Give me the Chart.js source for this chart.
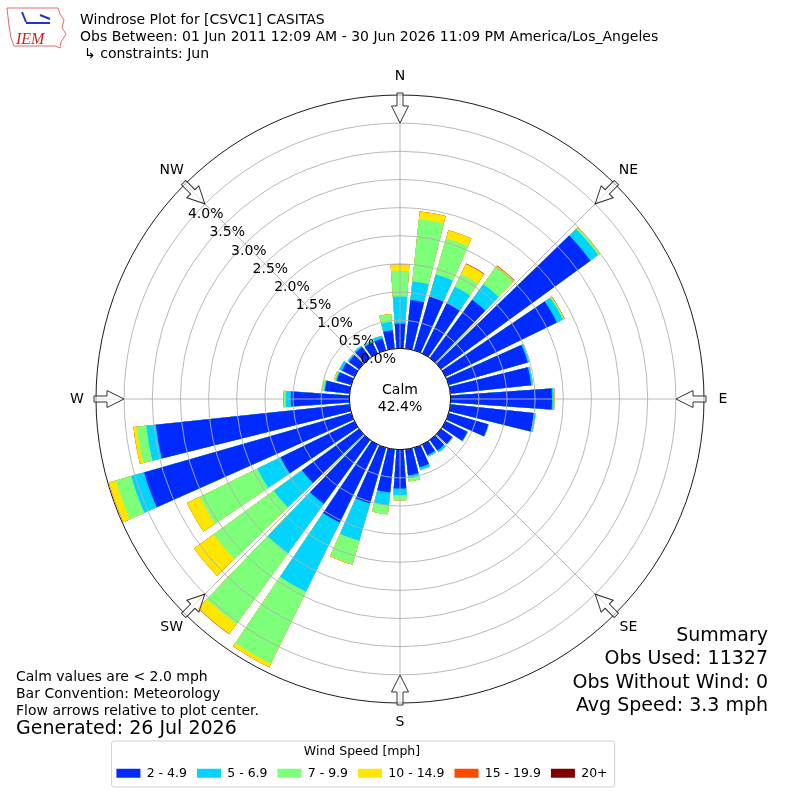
<!DOCTYPE html>
<html>
<head>
<meta charset="utf-8">
<script src="https://cdn.jsdelivr.net/npm/chart.js@4.4.1/dist/chart.umd.min.js"></script>
<style>
  html, body { margin: 0; padding: 0; background: #fff; }
  #wrap { width: 800px; height: 800px; }
</style>
</head>
<body>
<div id="wrap"><canvas id="rose" width="800" height="800"></canvas></div>
<script>
// wind directions (degrees, direction the wind blows from)
const directions = [0, 10, 20, 30, 40, 50, 60, 70, 80, 90, 100, 110, 120, 130, 140, 150, 160, 170,
  180, 190, 200, 210, 220, 230, 240, 250, 260, 270, 280, 290, 300, 310, 320, 330, 340, 350];

const speedBins = ["2 - 4.9", "5 - 6.9", "7 - 9.9", "10 - 14.9", "15 - 19.9", "20+"];
const binColors = ["#002aff", "#00d4ff", "#7dff7a", "#ffe600", "#ff4a00", "#800000"];

// frequency (%) per direction for each speed bin
const freq2to5 = [0.44, 0.87, 1.00, 1.00, 1.28, 3.28, 2.20, 1.46, 1.44, 1.80, 1.49, 0.73, 0.43, 0.25, 0.23, 0.21, 0.36, 0.46,
  0.69, 0.77, 1.03, 1.54, 1.40, 1.25, 1.46, 3.83, 3.46, 1.04, 0.44, 0.27, 0.25, 0.22, 0.24, 0.22, 0.22, 0.33];
const freq5to7 = [0.48, 0.33, 0.40, 0.32, 0.34, 0.17, 0.12, 0.03, 0.03, 0.03, 0.03, 0.01, 0.01, 0.01, 0.04, 0.03, 0.05, 0.05,
  0.12, 0.23, 0.69, 1.37, 1.08, 0.62, 0.46, 0.24, 0.17, 0.09, 0.02, 0.02, 0.05, 0.03, 0.03, 0.03, 0.05, 0.15];
const freq7to10 = [0.46, 1.11, 0.67, 0.25, 0.38, 0.03, 0.02, 0.01, 0.005, 0.01, 0.005, 0, 0, 0, 0, 0, 0.005, 0.06,
  0.09, 0.16, 0.43, 1.42, 1.56, 1.32, 1.14, 0.28, 0.17, 0.03, 0.03, 0.02, 0, 0, 0, 0, 0, 0.13];
const freq10to15 = [0.11, 0.14, 0.15, 0.20, 0.02, 0.01, 0.01, 0, 0, 0.005, 0, 0, 0, 0, 0, 0, 0, 0,
  0, 0, 0.01, 0.07, 0.22, 0.43, 0.25, 0.13, 0.06, 0.01, 0, 0.01, 0, 0, 0, 0, 0, 0.01];
const freq15to20 = [0, 0, 0, 0.01, 0.01, 0, 0.005, 0, 0, 0, 0, 0, 0, 0, 0, 0, 0, 0,
  0, 0, 0, 0, 0.005, 0, 0, 0, 0, 0, 0, 0, 0, 0, 0, 0, 0, 0];
const freq20plus = [0, 0, 0, 0, 0, 0, 0, 0, 0, 0, 0, 0, 0, 0, 0, 0, 0, 0,
  0, 0, 0, 0, 0, 0, 0, 0, 0, 0, 0, 0, 0, 0, 0, 0, 0, 0];

const ringTicks = [0, 0.5, 1.0, 1.5, 2.0, 2.5, 3.0, 3.5, 4.0, 4.5];
const compassNames = ["N", "NE", "E", "SE", "S", "SW", "W", "NW"];
const compassAngles = [0, 45, 90, 135, 180, 225, 270, 315];

const titleLines = [
  "Windrose Plot for [CSVC1] CASITAS",
  "Obs Between: 01 Jun 2011 12:09 AM - 30 Jun 2026 11:09 PM America/Los_Angeles",
  "\u21b3 constraints: Jun"
];
const noteLines = ["Calm values are < 2.0 mph", "Bar Convention: Meteorology", "Flow arrows relative to plot center."];
const generatedText = "Generated: 26 Jul 2026";
const summaryLines = ["Summary", "Obs Used: 11327", "Obs Without Wind: 0", "Avg Speed: 3.3 mph"];
const calmPct = "42.4%";

const FONT = "'DejaVu Sans', sans-serif";
Chart.defaults.font.family = FONT;

// each direction becomes a bar slot (8 deg) followed by a gap slot (2 deg)
const barAngle = 8, gapAngle = 2;
const slotLabels = [], slotAngles = [];
directions.forEach((d) => {
  slotLabels.push(d + "\u00b0", "");
  slotAngles.push(barAngle, gapAngle);
});

// stack the bins: every dataset holds the running total so smaller ones sit on top
const binSeries = [freq2to5, freq5to7, freq7to10, freq10to15, freq15to20, freq20plus];
let running = directions.map(() => 0);
const datasets = binSeries.map((vals, b) => {
  running = running.map((c, i) => c + vals[i]);
  const data = [];
  running.forEach((c) => data.push(c, 0));
  return {
    label: speedBins[b],
    data: data,
    angle: slotAngles,
    backgroundColor: (c) => (c.dataIndex % 2 === 0 ? binColors[b] : "rgba(0,0,0,0)"),
    borderWidth: 0,
  };
});

function put(ctx, s, x, y, size, align) {
  ctx.font = size + "px " + FONT;
  ctx.textAlign = align || "left";
  ctx.textBaseline = "middle";
  ctx.fillStyle = "#000";
  ctx.fillText(s, x, y);
}

const roseDecor = {
  id: "roseDecor",
  afterLayout(chart) {
    // legend in the original sits a bit left of centre
    chart.legend.left -= 38;
    chart.legend.right -= 38;
  },
  afterDatasetsDraw(chart) {
    const sc = chart.scales.r, ctx = chart.ctx;
    const R = sc.getDistanceFromCenterForValue(sc.max);
    ctx.save();
    ctx.strokeStyle = "#b0b0b0";
    ctx.lineWidth = 0.9;
    compassAngles.forEach((a) => {
      const t = a * Math.PI / 180;
      ctx.beginPath();
      ctx.moveTo(sc.xCenter, sc.yCenter);
      ctx.lineTo(sc.xCenter + R * Math.sin(t), sc.yCenter - R * Math.cos(t));
      ctx.stroke();
    });
    ctx.restore();
  },
  afterDraw(chart) {
    const sc = chart.scales.r, ctx = chart.ctx;
    const cx = sc.xCenter, cy = sc.yCenter;
    const R = sc.getDistanceFromCenterForValue(sc.max);
    const r0 = sc.getDistanceFromCenterForValue(0);
    ctx.save();

    // calm circle
    ctx.beginPath();
    ctx.arc(cx, cy, r0, 0, Math.PI * 2);
    ctx.fillStyle = "#fff";
    ctx.fill();
    ctx.strokeStyle = "#000";
    ctx.lineWidth = 1;
    ctx.stroke();
    put(ctx, "Calm", cx, cy - 9, 14, "center");
    put(ctx, calmPct, cx, cy + 8, 14, "center");

    // radial tick labels along 310 deg
    const la = 310 * Math.PI / 180;
    ringTicks.slice(0, -1).forEach((v) => {
      const rr = sc.getDistanceFromCenterForValue(v);
      put(ctx, v.toFixed(1) + "%", cx + rr * Math.sin(la) + 17, cy - rr * Math.cos(la) - 7, 14, "center");
    });

    // flow arrows and compass labels
    compassAngles.forEach((a, i) => {
      const t = a * Math.PI / 180;
      ctx.save();
      ctx.translate(cx, cy);
      ctx.rotate(t);
      ctx.beginPath();
      ctx.moveTo(-3, -(R + 2));
      ctx.lineTo(3, -(R + 2));
      ctx.lineTo(3, -(R - 11));
      ctx.lineTo(8.5, -(R - 11));
      ctx.lineTo(0, -(R - 28));
      ctx.lineTo(-8.5, -(R - 11));
      ctx.lineTo(-3, -(R - 11));
      ctx.closePath();
      ctx.fillStyle = "rgba(255,255,255,0.6)";
      ctx.fill();
      ctx.strokeStyle = "#333";
      ctx.lineWidth = 1;
      ctx.stroke();
      ctx.restore();
      put(ctx, compassNames[i], cx + (R + 19) * Math.sin(t), cy - (R + 19) * Math.cos(t), 14, "center");
    });

    // header
    put(ctx, titleLines[0], 80, 20, 14);
    put(ctx, titleLines[1], 80, 37, 14);
    put(ctx, titleLines[2], 84, 54, 14);

    // logo
    ctx.beginPath();
    ctx.moveTo(7, 8); ctx.lineTo(58, 8); ctx.lineTo(60, 14); ctx.lineTo(64, 20);
    ctx.lineTo(62, 28); ctx.lineTo(66, 34); ctx.lineTo(61, 42); ctx.lineTo(60, 48);
    ctx.lineTo(55, 46); ctx.lineTo(14, 46); ctx.lineTo(11, 38); ctx.lineTo(9, 26); ctx.closePath();
    ctx.strokeStyle = "#e46a6a";
    ctx.lineWidth = 1;
    ctx.stroke();
    ctx.strokeStyle = "#2233cc";
    ctx.lineWidth = 2;
    ctx.beginPath(); ctx.moveTo(26, 23); ctx.lineTo(50, 23); ctx.stroke();
    ctx.beginPath(); ctx.moveTo(40, 15); ctx.lineTo(50, 19); ctx.stroke();
    ctx.beginPath(); ctx.moveTo(22, 12); ctx.lineTo(26, 22); ctx.stroke();
    ctx.font = "italic 16px 'Liberation Serif', serif";
    ctx.fillStyle = "#d42020";
    ctx.textAlign = "left";
    ctx.textBaseline = "alphabetic";
    ctx.fillText("IEM", 16, 44);

    // notes bottom left
    put(ctx, noteLines[0], 16, 677, 14);
    put(ctx, noteLines[1], 16, 694, 14);
    put(ctx, noteLines[2], 16, 711, 14);
    put(ctx, generatedText, 16, 729, 19);

    // summary bottom right
    summaryLines.forEach((s, i) => put(ctx, s, 768, 636 + i * 23.3, 19, "right"));

    // legend frame
    const lg = chart.legend, hb = lg.legendHitBoxes;
    const last = hb[hb.length - 1];
    const x1 = hb[0].left - 5, x2 = last.left + last.width + 7;
    const y1 = lg.top + 37, y2 = lg.top + 83;
    ctx.beginPath();
    ctx.roundRect(x1, y1, x2 - x1, y2 - y1, 3);
    ctx.strokeStyle = "#d0d0d0";
    ctx.lineWidth = 1;
    ctx.stroke();
    ctx.restore();
  },
};

new Chart(document.getElementById("rose"), {
  type: "polarArea",
  data: { labels: slotLabels, datasets: datasets },
  plugins: [roseDecor],
  options: {
    responsive: false,
    animation: false,
    layout: { padding: { top: 95, left: 0, right: 0, bottom: 10.5 } },
    scales: {
      r: {
        min: -0.9,
        max: 4.5,
        startAngle: -barAngle / 2,
        afterBuildTicks: (scale) => { scale.ticks = ringTicks.map((v) => ({ value: v })); },
        ticks: { display: false },
        pointLabels: { display: false },
        angleLines: { display: false },
        grid: {
          circular: true,
          z: 1,
          lineWidth: 0.9,
          color: (c) => (c.tick && c.tick.value === 4.5 ? "#000" : "#b0b0b0"),
        },
      },
    },
    plugins: {
      tooltip: { enabled: false },
      legend: {
        position: "bottom",
        title: {
          display: true,
          text: "Wind Speed [mph]",
          color: "#000",
          font: { size: 12.5, family: FONT },
          padding: { top: 41, bottom: -3 },
        },
        labels: {
          color: "#000",
          boxWidth: 24,
          boxHeight: 9,
          padding: 10,
          font: { size: 12.5, family: FONT },
          generateLabels: (chart) => chart.data.datasets.map((ds, i) => ({
            text: ds.label,
            fillStyle: binColors[i],
            strokeStyle: binColors[i],
            lineWidth: 0,
            hidden: false,
            datasetIndex: i,
          })),
        },
      },
    },
  },
});
</script>
</body>
</html>
